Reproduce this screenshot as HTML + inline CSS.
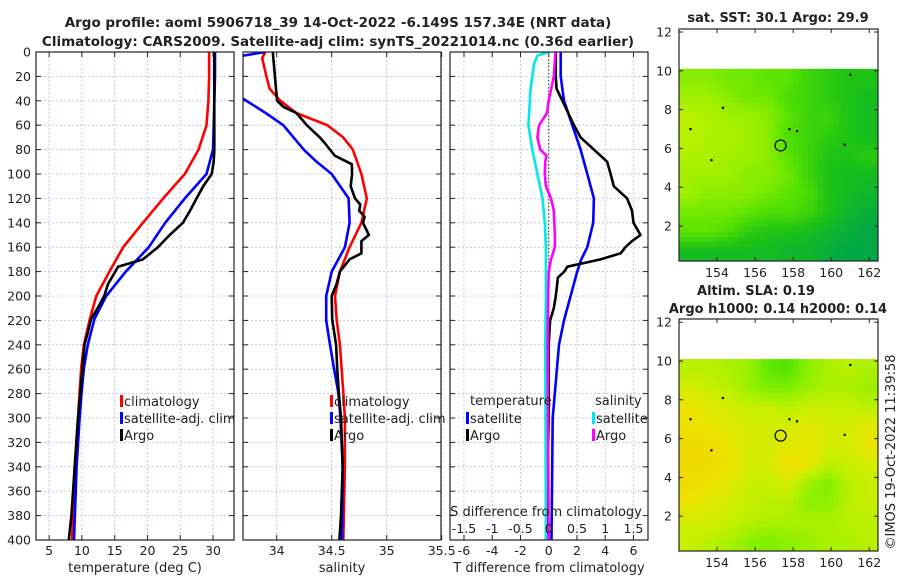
<!DOCTYPE html>
<html><head><meta charset="utf-8"><style>
html,body{margin:0;padding:0;background:#fff;}
svg text{font-family:"DejaVu Sans","Liberation Sans",sans-serif;fill:#222;}
</style></head><body>
<svg id="chart" xmlns="http://www.w3.org/2000/svg" width="900" height="580" viewBox="0 0 900 580">
<text x="338" y="27" text-anchor="middle" font-size="13.5" font-weight="bold">Argo profile: aoml 5906718_39 14-Oct-2022 -6.149S 157.34E (NRT data)</text>
<text x="338" y="46" text-anchor="middle" font-size="13.5" font-weight="bold">Climatology: CARS2009. Satellite-adj clim: synTS_20221014.nc (0.36d earlier)</text>
<text x="778" y="22" text-anchor="middle" font-size="13" font-weight="bold">sat. SST: 30.1 Argo: 29.9</text>
<text x="756" y="295" text-anchor="middle" font-size="13" font-weight="bold">Altim. SLA: 0.19</text>
<text x="778" y="313" text-anchor="middle" font-size="13" font-weight="bold">Argo h1000: 0.14 h2000: 0.14</text>
<text transform="translate(895,452) rotate(-90)" text-anchor="middle" font-size="13">©IMOS 19-Oct-2022 11:39:58</text>
<g id="layer"></g>
</svg>
<script>
// ---- depth levels (dbar) ----
const depthTC = [0,20,40,60,80,100,120,140,160,180,200,219,240,259,279,300,340,400];
const tempClim = [29.4,29.4,29.3,29.0,27.8,25.7,22.4,19.3,16.3,14.2,12.2,11.2,10.3,9.9,9.65,9.4,8.9,8.5];
const depthTS = [0,20,40,60,80,100,120,140,160,180,200,219,240,259,279,300,340,400];
const tempSat = [30.3,30.3,30.2,30.1,30.0,29.0,25.7,22.7,20.2,16.7,13.7,11.9,10.9,10.3,9.95,9.65,9.2,8.8];
const depthTA = [0,40,80,90,100,110,120,130,140,150,160,170,176,180,190,200,210,219,230,240,259,300,340,380,400];
const tempArgo = [30.2,30.2,30.2,30.1,29.8,28.5,27.5,26.5,25.4,23.4,21.6,19.3,15.5,15.1,14.0,13.4,12.4,11.4,10.9,10.4,10.1,9.4,8.9,8.4,8.0];

const depthSC = [0,5,20,30,40,50,60,70,80,100,120,140,160,180,200,219,240,279,300,340,400];
const salClim = [33.897,33.868,33.907,33.936,34.033,34.178,34.46,34.605,34.692,34.77,34.819,34.77,34.663,34.575,34.53,34.545,34.575,34.606,34.62,34.62,34.606];
const depthSS = [0,3,10,35,38,50,60,80,90,100,120,140,160,180,200,220,240,259,279,300,340,400];
const salSat = [33.897,33.69,33.5,33.5,33.69,33.9,34.06,34.246,34.363,34.5,34.654,34.663,34.62,34.5,34.45,34.45,34.485,34.52,34.56,34.58,34.6,34.595];
const depthSA = [0,30,40,45,50,60,70,75,85,92,100,110,120,125,130,135,140,150,155,165,170,180,190,200,219,240,259,279,300,340,380,400];
const salArgo = [33.965,33.994,34.004,34.062,34.178,34.275,34.392,34.44,34.528,34.683,34.686,34.673,34.712,34.76,34.75,34.799,34.785,34.838,34.77,34.77,34.663,34.575,34.545,34.5,34.505,34.54,34.55,34.565,34.585,34.6,34.585,34.57];

const depthDT = [0,20,40,60,80,100,120,140,160,170,180,200,220,240,300,400];
const dTsat = [0.85,0.85,1.08,1.67,2.26,2.73,3.2,3.15,2.73,2.3,2.02,1.55,1.08,0.73,0.28,0.2];
const depthDTA = [0,20,30,40,60,70,80,90,100,110,120,130,140,150,155,160,165,170,176,180,185,190,200,210,220,240,300,360,400];
const dTargo = [0.5,0.5,0.55,0.97,1.79,2.26,3.2,4.14,4.38,4.61,5.55,5.9,6.0,6.5,5.9,5.43,5.1,3.67,1.32,1.1,0.64,0.6,0.5,0.36,0.1,0.0,0.0,-0.1,-0.2];
const depthDS = [0,3,10,30,60,80,100,120,140,160,200,240,400];
const dSsat = [0.0,-0.2,-0.26,-0.32,-0.36,-0.29,-0.2,-0.11,-0.07,-0.05,-0.05,-0.06,-0.05];
const depthDSA = [0,20,40,50,60,70,80,85,90,100,110,120,130,150,160,170,180,200,240,400];
const dSargo = [0.12,0.09,0.0,-0.03,-0.17,-0.2,-0.15,-0.04,-0.06,-0.07,-0.05,0.04,0.09,0.11,0.11,0.04,0.0,-0.01,-0.02,0.0];

const depthTicks = [0,20,40,60,80,100,120,140,160,180,200,220,240,260,280,300,320,340,360,380,400];
const tempTicks = [5,10,15,20,25,30];
const salTicks = [34,34.5,35,35.5];
const dTTicks = [-6,-4,-2,0,2,4,6];
const dSTicks = [-1.5,-1,-0.5,0,0.5,1,1.5];
const latTicks = [2,4,6,8,10,12];
const lonTicks = [154,156,158,160,162];

// map grids: rows north(lat~10) -> south, cols west -> east ; normalized field values
const sstGrid = [
[0.50,0.50,0.45,0.45,0.40,0.40,0.30,0.25,0.20,0.20],
[0.55,0.55,0.50,0.45,0.45,0.35,0.30,0.25,0.20,0.15],
[0.65,0.60,0.55,0.55,0.50,0.40,0.30,0.30,0.20,0.15],
[0.65,0.60,0.60,0.55,0.50,0.35,0.30,0.25,0.20,0.15],
[0.60,0.60,0.55,0.55,0.50,0.40,0.30,0.20,0.20,0.25],
[0.55,0.55,0.55,0.50,0.50,0.45,0.30,0.20,0.15,0.15],
[0.55,0.50,0.50,0.50,0.45,0.40,0.35,0.20,0.15,0.10],
[0.45,0.45,0.45,0.40,0.35,0.35,0.30,0.20,0.10,0.05],
[0.40,0.40,0.35,0.25,0.20,0.20,0.15,0.10,0.05,0.00],
[0.15,0.15,0.15,0.15,0.15,0.10,0.10,0.05,0.00,0.00]];
const slaGrid = [
[0.50,0.50,0.45,0.40,0.20,0.15,0.35,0.45,0.50,0.45],
[0.60,0.55,0.50,0.40,0.30,0.30,0.40,0.45,0.45,0.40],
[0.70,0.65,0.60,0.55,0.55,0.50,0.55,0.55,0.55,0.50],
[0.75,0.70,0.65,0.60,0.60,0.60,0.65,0.60,0.60,0.65],
[0.80,0.80,0.70,0.60,0.60,0.65,0.70,0.60,0.60,0.70],
[0.80,0.80,0.75,0.60,0.60,0.75,0.70,0.50,0.55,0.60],
[0.80,0.75,0.65,0.55,0.55,0.60,0.40,0.30,0.50,0.55],
[0.70,0.65,0.60,0.55,0.50,0.50,0.35,0.35,0.50,0.55],
[0.60,0.60,0.55,0.50,0.45,0.45,0.45,0.45,0.50,0.50],
[0.55,0.50,0.45,0.35,0.30,0.35,0.40,0.45,0.45,0.50]];
const argoLon = [157.34];
const argoLat = [6.15];
const islandLon = [154.3,152.6,153.7,157.8,158.2,160.7,161.0];
const islandLat = [8.1,7.0,5.4,7.0,6.9,6.2,9.8];

const NS='http://www.w3.org/2000/svg';
const layer=document.getElementById('layer');
function mk(tag,attrs,parent){const e=document.createElementNS(NS,tag);for(const k in attrs)e.setAttribute(k,attrs[k]);(parent||layer).appendChild(e);return e;}

const Y0=52,Y1=540;
const yDepth=d=>Y0+(d/400)*(Y1-Y0);

function panel(name,x0,x1,vmin,vmax,ticks,fmt){
  const sx=v=>x0+(v-vmin)/(vmax-vmin)*(x1-x0);
  const g=mk('g',{});
  
  
  const cp=mk('clipPath',{id:'clip-'+name},g);
  mk('rect',{x:x0,y:Y0,width:x1-x0,height:Y1-Y0},cp);
  depthTicks.forEach(d=>{
    const l=mk('line',{x1:x0,x2:x1,y1:yDepth(d),y2:yDepth(d),stroke:'#b4bde6','stroke-width':0.8,'stroke-dasharray':'2,2'},g);
    
    
    mk('line',{x1:x0,x2:x0+5,y1:yDepth(d),y2:yDepth(d),stroke:'#222'},g);
    mk('line',{x1:x1-5,x2:x1,y1:yDepth(d),y2:yDepth(d),stroke:'#222'},g);
  });
  ticks.forEach(t=>{
    const X=sx(t);
    const l=mk('line',{x1:X,x2:X,y1:Y0,y2:Y1,stroke:'#b4bde6','stroke-width':0.8,'stroke-dasharray':'2,2'},g);
    
    
    mk('line',{x1:X,x2:X,y1:Y1-5,y2:Y1,stroke:'#222'},g);
    mk('line',{x1:X,x2:X,y1:Y0,y2:Y0+5,stroke:'#222'},g);
    const tx=mk('text',{x:X,y:Y1+15,'text-anchor':'middle','font-size':12.5},g);
    tx.textContent=fmt?fmt(t):t;
    
    
  });
  return {g,sx,x0,x1,clip:'url(#clip-'+name+')'};
}
function line(p,vals,depths,color,name,w){
  const pts=vals.map((v,i)=>p.sx(v).toFixed(1)+','+yDepth(depths[i]).toFixed(1)).join(' ');
  const pl=mk('polyline',{points:pts,fill:'none',stroke:color,'stroke-width':w||2.6,'stroke-linejoin':'round','clip-path':p.clip},p.g);
  
  
}
function frame(p){mk('rect',{x:p.x0,y:Y0,width:p.x1-p.x0,height:Y1-Y0,fill:'none',stroke:'#222','stroke-width':1.2},p.g);}
function legendItem(parent,x,y,color,label,name){
  const r=mk('rect',{x:x,y:y-11,width:3,height:12,fill:color},parent);
  
  
  const t=mk('text',{x:x+4,y:y,'font-size':13},parent);
  t.textContent=label;
  
  
}

// y axis labels
depthTicks.forEach(d=>{
  const t=mk('text',{x:31,y:yDepth(d)+4.5,'text-anchor':'end','font-size':12.5});
  t.textContent=d;
  
  
});

// panel 1 temperature
const p1=panel('temperature-panel',36,234,3.0,33.2,tempTicks);
line(p1,tempClim,depthTC,'#ff0000','temp-climatology-line');
line(p1,tempSat,depthTS,'#0000ff','temp-satellite-line');
line(p1,tempArgo,depthTA,'#000000','temp-argo-line');
frame(p1);
legendItem(p1.g,120,406,'#ff0000','climatology','legend-climatology');
legendItem(p1.g,120,423,'#0000ff','satellite-adj. clim','legend-satellite');
legendItem(p1.g,120,440,'#000000','Argo','legend-argo');
{const t=mk('text',{x:135,y:572,'text-anchor':'middle','font-size':13});t.textContent='temperature (deg C)';}

// panel 2 salinity
const p2=panel('salinity-panel',243,441,33.6939,35.4939,salTicks);
line(p2,salClim,depthSC,'#ff0000','sal-climatology-line');
line(p2,salSat,depthSS,'#0000ff','sal-satellite-line');
line(p2,salArgo,depthSA,'#000000','sal-argo-line');
frame(p2);
legendItem(p2.g,330,406,'#ff0000','climatology','legend-climatology');
legendItem(p2.g,330,423,'#0000ff','satellite-adj. clim','legend-satellite');
legendItem(p2.g,330,440,'#000000','Argo','legend-argo');
{const t=mk('text',{x:342,y:572,'text-anchor':'middle','font-size':13});t.textContent='salinity';}

// panel 3 differences
const p3=panel('difference-panel',450,648,-6.99,7.03,dTTicks);
const sS=v=>p3.sx(v*4);
{const z=mk('line',{x1:p3.sx(0),x2:p3.sx(0),y1:Y0,y2:Y1,stroke:'#4a5a20','stroke-width':1.2,'stroke-dasharray':'1.5,2'},p3.g);}
line(p3,dTsat,depthDT,'#0000ff','dT-satellite-line');
line(p3,dTargo,depthDTA,'#000000','dT-argo-line');
line(p3,dSsat.map(v=>v*4),depthDS,'#00e8e8','dS-satellite-line');
line(p3,dSargo.map(v=>v*4),depthDSA,'#ff00ff','dS-argo-line');
frame(p3);
dSTicks.forEach(t=>{
  const tx=mk('text',{x:sS(t),y:533,'text-anchor':'middle','font-size':12.5},p3.g);
  tx.textContent=t;
  
  
});
{const t=mk('text',{x:546,y:516,'text-anchor':'middle','font-size':13},p3.g);t.textContent='S difference from climatology';}
{const t=mk('text',{x:549,y:572,'text-anchor':'middle','font-size':13});t.textContent='T difference from climatology';}
{const t=mk('text',{x:470,y:405,'font-size':13},p3.g);t.textContent='temperature';}
{const t=mk('text',{x:595,y:405,'font-size':13},p3.g);t.textContent='salinity';}
legendItem(p3.g,466,423,'#0000ff','satellite','legend-t-satellite');
legendItem(p3.g,466,440,'#000000','Argo','legend-t-argo');
legendItem(p3.g,592,423,'#00e8e8','satellite','legend-s-satellite');
legendItem(p3.g,592,440,'#ff00ff','Argo','legend-s-argo');

// ---- maps ----
function lerpStops(stops,v){
  v=Math.max(0,Math.min(1,v));
  for(let i=1;i<stops.length;i++){if(v<=stops[i][0]){const a=stops[i-1],b=stops[i];const f=(v-a[0])/(b[0]-a[0]);
    return 'rgb('+[1,2,3].map(k=>Math.round(a[k]+(b[k]-a[k])*f)).join(',')+')';}}
  const s=stops[stops.length-1];return 'rgb('+s[1]+','+s[2]+','+s[3]+')';
}
const sstStops=[[0,0,168,70],[0.2,30,195,20],[0.4,90,228,0],[0.55,160,240,0],[0.7,200,242,0],[1,240,230,0]];
const slaStops=[[0,40,220,0],[0.35,140,240,0],[0.55,200,240,0],[0.7,235,228,0],[1,245,205,0]];
function mapPanel(name,grid,stops,bx0,bx1,by0,by1,lat0px){
  const lonMin=152.0,lonMax=162.46;
  const degY=19.4;
  const sx=lon=>bx0+(lon-lonMin)/(lonMax-lonMin)*(bx1-bx0);
  const sy=lat=>lat0px-lat*degY;
  const g=mk('g',{});
  
  
  const top=sy(10.1),bottom=by1;
  const R=grid.length,C=grid[0].length,sub=4;
  const w=(bx1-bx0)/(C*sub),h=(bottom-top)/(R*sub);
  for(let i=0;i<R*sub;i++)for(let j=0;j<C*sub;j++){
    const fy=Math.max(0,Math.min(R-1,(i+0.5)/sub-0.5)),fx=Math.max(0,Math.min(C-1,(j+0.5)/sub-0.5));
    const r0=Math.floor(fy),c0=Math.floor(fx),r1=Math.min(R-1,r0+1),c1=Math.min(C-1,c0+1);
    const ty=fy-r0,tx=fx-c0;
    const v=(grid[r0][c0]*(1-tx)+grid[r0][c1]*tx)*(1-ty)+(grid[r1][c0]*(1-tx)+grid[r1][c1]*tx)*ty;
    const c=mk('rect',{x:(bx0+j*w).toFixed(2),y:(top+i*h).toFixed(2),width:(w+0.4).toFixed(2),height:(h+0.4).toFixed(2),fill:lerpStops(stops,v)},g);
    
    
  }
  islandLon.forEach((lo,k)=>{const d=mk('rect',{x:sx(lo)-1,y:sy(islandLat[k])-1,width:2.2,height:2.2,fill:'#000'},g);});
  argoLon.forEach((lo,k)=>{const c=mk('circle',{cx:sx(lo),cy:sy(argoLat[k]),r:5.5,fill:'none',stroke:'#000','stroke-width':1.2},g);});
  mk('rect',{x:bx0,y:by0,width:bx1-bx0,height:by1-by0,fill:'none',stroke:'#222','stroke-width':1.2},g);
  latTicks.forEach(t=>{const Yp=sy(t);
    mk('line',{x1:bx0,x2:bx0+4,y1:Yp,y2:Yp,stroke:'#222'},g);mk('line',{x1:bx1-4,x2:bx1,y1:Yp,y2:Yp,stroke:'#222'},g);
    const tx=mk('text',{x:bx0-7,y:Yp+4.5,'text-anchor':'end','font-size':12.5},g);tx.textContent=t;
    
    });
  lonTicks.forEach(t=>{const X=sx(t);
    mk('line',{x1:X,x2:X,y1:by1-4,y2:by1,stroke:'#222'},g);mk('line',{x1:X,x2:X,y1:by0,y2:by0+4,stroke:'#222'},g);
    const tx=mk('text',{x:X,y:by1+16,'text-anchor':'middle','font-size':12.5},g);tx.textContent=t;
    
    });
}
mapPanel('sst-map',sstGrid,sstStops,679,878,29,261,264.8);
mapPanel('sla-map',slaGrid,slaStops,679,878,319,551,555);
</script>
</body></html>
